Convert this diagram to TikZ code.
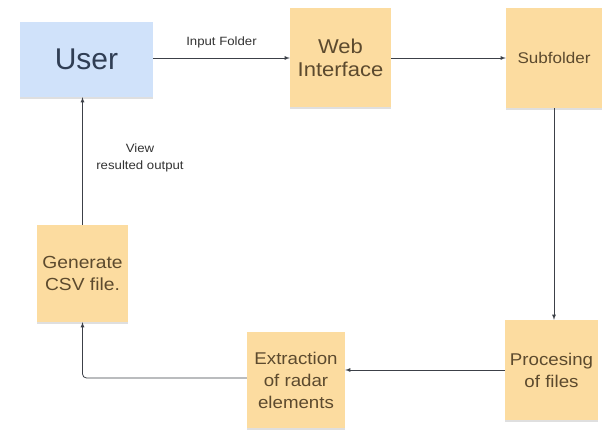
\documentclass[tikz,border=0pt]{standalone}
\usepackage{fontspec}
\setmainfont{Liberation Sans}
\newfontfamily\notefont[FakeStretch=1.1]{Liberation Sans}
\usetikzlibrary{arrows, shadows}

\definecolor{notebg}{RGB}{252,220,160}
\definecolor{userbg}{RGB}{208,226,250}
\definecolor{notetxt}{RGB}{92,74,46}
\definecolor{usertxt}{RGB}{48,62,84}
\definecolor{linecol}{RGB}{60,64,72}

\tikzset{
  note/.style={fill=notebg, text=notetxt, align=center, inner sep=0pt,
    drop shadow={shadow xshift=-0.5pt, shadow yshift=-2pt, opacity=0.25}},
  flow/.style={draw=linecol, line width=0.8pt, -latex},
  lbl/.style={text=black!80, font=\notefont\fontsize{12}{17}\selectfont, align=center}
}

\begin{document}
\begin{tikzpicture}[x=1pt, y=-1pt]
\useasboundingbox (0,0) rectangle (608,434);
% sticky notes
\node [note, fill=userbg, text=usertxt, minimum width=133pt, minimum height=75pt,
  font=\fontsize{30}{34}\selectfont] (user) at (86.5,59.5) {User};
\node [note, minimum width=101pt, minimum height=99pt,
  font=\notefont\fontsize{20}{23}\selectfont] (web) at (340.5,57.5) {Web\\Interface};
\node [note, minimum width=96pt, minimum height=100pt,
  font=\notefont\fontsize{15.5}{18}\selectfont] (sub) at (554,58) {Subfolder};
\node [note, minimum width=93pt, minimum height=100pt,
  font=\notefont\fontsize{17}{22}\selectfont] (proc) at (551.5,370) {Procesing\\of files};
\node [note, minimum width=98pt, minimum height=96pt,
  font=\notefont\fontsize{17}{22}\selectfont] (extr) at (296,380) {Extraction\\of radar\\elements};
\node [note, minimum width=91pt, minimum height=97pt,
  font=\notefont\fontsize{17.5}{22}\selectfont] (gen) at (82.5,273.5) {Generate\\CSV file.};
% connectors
\draw [flow] (user.east |- 0,58) -- (web.west |- 0,58) node [lbl, midway, above=6pt] {Input Folder};
\draw [flow] (web.east |- 0,58) -- (sub.west |- 0,58);
\draw [flow] (sub.south) -- (sub.south |- proc.north);
\draw [flow] (proc.west |- 0,370) -- (extr.east |- 0,370);
\draw [flow, rounded corners=4pt] (extr.west |- 0,378) -| (gen.south);
\draw [flow] (gen.north) -- (user.south -| gen.north);
\node [lbl] (view) at (140,157.5) {View\\resulted output};
\end{tikzpicture}
\end{document}
